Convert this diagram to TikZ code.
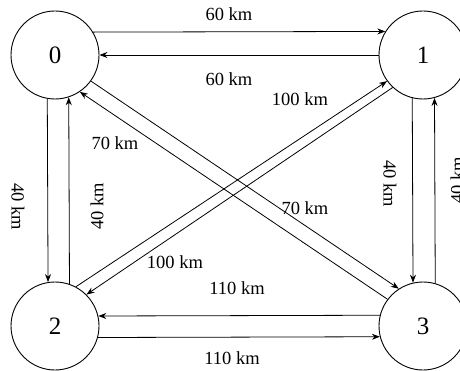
\documentclass[tikz,border=0pt]{standalone}
\usepackage{fontspec}
\setmainfont{Liberation Serif}
\newfontfamily\labelfont{Liberation Serif}
\usetikzlibrary{arrows.meta}
\begin{document}
\begin{tikzpicture}[x=1pt,y=1pt,
  city/.style={circle,draw,line width=0.9pt,minimum size=88pt,inner sep=0pt,font=\labelfont\fontsize{25}{25}\selectfont},
  road/.style={draw,line width=0.8pt,-{Stealth[length=8pt,width=6pt]}},
  dist/.style={inner sep=1pt,font=\labelfont\fontsize{18.5}{18.5}\selectfont}]
\path[use as bounding box] (0,0) rectangle (460,-371);
\clip (0,0) rectangle (460,-371);
\node[city] (n0) at (55,-55) {0};
\node[city] (n1) at (423,-55) {1};
\node[city] (n2) at (55,-326) {2};
\node[city] (n3) at (423,-326) {3};
% top
\draw[road] (n0.31.5) -- (n1.148.5);
\draw[road] (n1.180) -- (n0.0);
% left
\draw[road] (n0.260.8) -- (n2.99.2);
\draw[road] (n2.71.5) -- (n0.288.5);
% right
\draw[road] (n1.256.9) -- (n3.103.1);
\draw[road] (n3.74.2) -- (n1.285.8);
% bottom
\draw[road] (n3.166.9) -- (n2.13.1);
\draw[road] (n2.345.5) -- (n3.194.5);
% diagonals
\draw[road] (n0.-36.1) -- (n3.123.7);
\draw[road] (n3.143.4) -- (n0.-56.3);
\draw[road] (n2.62.2) -- (n1.216.3);
\draw[road] (n1.227.6) -- (n2.45.9);
% labels
\node[dist] (l01) at (229,-14) {60 km};
\node[dist] (l10) at (229,-79) {60 km};
\node[dist,rotate=-90] (l02) at (18,-207) {40 km};
\node[dist,rotate=90] (l20) at (97,-206) {40 km};
\node[dist,rotate=-90] (l13) at (390,-184) {40 km};
\node[dist,rotate=90] (l31) at (457,-180) {40 km};
\node[dist] (l30) at (115,-143) {70 km};
\node[dist] (l03) at (305,-208) {70 km};
\node[dist] (l21) at (300,-99) {100 km};
\node[dist] (l12) at (175,-262) {100 km};
\node[dist] (l32) at (237,-288) {110 km};
\node[dist] (l23) at (232,-358) {110 km};
\end{tikzpicture}
\end{document}
